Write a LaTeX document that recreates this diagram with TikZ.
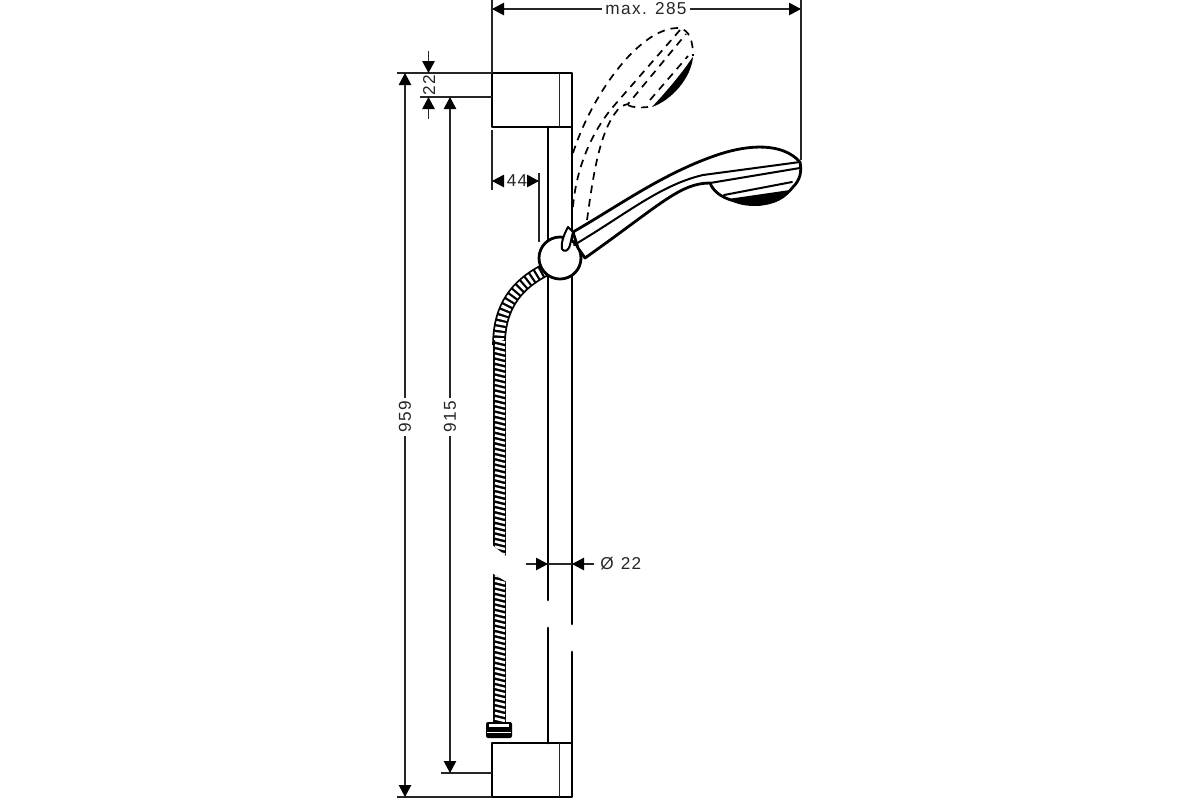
\documentclass[tikz,border=0pt]{standalone}
\usepackage{fontspec}
\setmainfont[LetterSpace=8]{Liberation Sans}
\usetikzlibrary{arrows.meta}
\tikzset{
 thickln/.style={line width=1.4pt,black,line cap=round,line join=round},
 midln/.style={line width=1pt,black,line cap=round,line join=round},
 thinln/.style={line width=.7pt,black!85},
 dashln/.style={line width=.85pt,black,dash pattern=on 3.8pt off 3pt},
 dimtip/.style={line width=.7pt,black!85,-{Triangle[length=6pt,width=6.2pt,color=black]}},
 dimtxt/.style={font=\fontsize{8.6}{10}\selectfont,inner sep=1.5pt,text=black!85}
}
\begin{document}
\begin{tikzpicture}[x=.5pt,y=-.5pt]
\useasboundingbox[fill=white] (0,0) rectangle (1200,800);
% dashed upper position
\draw[dashln] (573,153) .. controls (582,125) and (600,88) .. (627,58) .. controls (642,42) and (660,28) .. (678,28) .. controls (690,29) and (693,42) .. (693,56);
\draw[dashln] (573,207) .. controls (576,170) and (590,135) .. (612,108) -- (680,30);
\draw[dashln] (587,220) .. controls (592,185) and (598,135) .. (616,112) .. controls (620,106) and (624,105) .. (628,104) -- (686,34);
\draw[dashln] (628,105) .. controls (630,107) and (640,108) .. (648,107);
\draw[dashln] (650,100) -- (688,56);
\fill[black] (693,57) .. controls (691,78) and (672,100) .. (652,107) .. controls (664,94) and (680,76) .. (692,58) -- cycle;
% rail
\draw[thickln] (548,127) -- (548,600);
\draw[thickln] (548,628) -- (548,743);
\draw[thickln] (572,127) -- (572,624);
\draw[thickln] (572,652) -- (572,743);
\draw[thickln] (492,73) -- (572,73) -- (572,127) -- (492,127) -- cycle;
\draw[thinln] (559.5,73) -- (559.5,127);
\draw[thickln] (492,743) -- (572,743) -- (572,797) -- (492,797) -- cycle;
\draw[thinln] (559.5,743) -- (559.5,797);
% hose curved part
\draw[line width=6.8pt,black] (545,270) .. controls (518,284) and (499,305) .. (499,345);
\draw[line width=5pt,white,dash pattern=on 1.5pt off 1.2pt] (545,270) .. controls (518,284) and (499,305) .. (499,345);
% hose straight part
\begin{scope}
\clip (490,340) -- (510,340) -- (510,559) -- (490,543) -- cycle;
\fill[black] (492.5,340) rectangle (506,560);
\foreach \y in {340,345.3,...,560} \draw[line width=1.3pt,white] (495,\y) -- (505,\y+2.5);
\end{scope}
\begin{scope}
\clip (490,572) -- (510,584) -- (510,724) -- (490,724) -- cycle;
\fill[black] (492.5,570) rectangle (506,724);
\foreach \y in {570,575.3,...,724} \draw[line width=1.3pt,white] (495,\y) -- (505,\y+2.5);
\end{scope}
% hose nut
\fill[black,rounded corners=1pt] (486,722) rectangle (512,738);
\fill[white] (489,724) rectangle (509,726.5);
\fill[white] (487,731.5) rectangle (511,732.5);
% ball
\node[circle,draw,fill=white,line width=1.4pt,minimum size=21pt,inner sep=0pt] (ball) at (560,258) {};
% handle
\draw[thickln,fill=white] (573,232) .. controls (620,205) and (665,172) .. (720,154) .. controls (748,145) and (782,142) .. (800,162) .. controls (802,172) and (800,180) .. (793,187) .. controls (785,197) and (775,204) .. (757,204) .. controls (735,203) and (716,198) .. (710,183) .. controls (680,183) and (660,205) .. (585,258) -- (578,248) -- cycle;
\draw[midln] (574,245) .. controls (625,215) and (660,185) .. (703,175) -- (800,162);
\draw[midln] (710,183) -- (800,168);
\draw[midln] (724,195) -- (792,182);
\fill[black] (728,199) -- (790,190) .. controls (780,200) and (770,206) .. (755,206) .. controls (745,206) and (735,204) .. (728,199) -- cycle;
% peg
\draw[midln,fill=white] (568,227) -- (573,232) -- (570,245) .. controls (568,252) and (564,252) .. (562,249) .. controls (561,244) and (563,236) .. (568,227) -- cycle;
% named dimension anchors
\coordinate (maxL) at (492,9); \coordinate (maxR) at (801,9);
\node[dimtxt] (tmax) at (646,9) {max. 285};
\draw[dimtip] (tmax) -- (maxL);
\draw[dimtip] (tmax) -- (maxR);
\coordinate (e1a) at (492,0); \coordinate (e1b) at (492,73);
\draw[thinln] (e1a) -- (e1b);
\coordinate (e2a) at (801,0); \coordinate (e2b) at (801,160);
\draw[thinln] (e2a) -- (e2b);
\coordinate (l1a) at (397,73); \coordinate (l1b) at (492,73);
\draw[thinln] (l1a) -- (l1b);
\coordinate (l2a) at (420,97); \coordinate (l2b) at (492,97);
\draw[thinln] (l2a) -- (l2b);
\coordinate (l3a) at (441,773); \coordinate (l3b) at (492,773);
\draw[thinln] (l3a) -- (l3b);
\coordinate (l4a) at (397,797); \coordinate (l4b) at (492,797);
\draw[thinln] (l4a) -- (l4b);
% 22
\coordinate (d22a) at (428.5,51); \coordinate (d22b) at (428.5,73);
\coordinate (d22c) at (428.5,119); \coordinate (d22d) at (428.5,97);
\draw[dimtip] (d22a) -- (d22b);
\draw[dimtip] (d22c) -- (d22d);
\node[dimtxt,rotate=90] (t22) at (429,85) {22};
% 959, 915
\node[dimtxt,rotate=90] (t959) at (405,417) {959};
\coordinate (d959a) at (405,73); \coordinate (d959b) at (405,797);
\draw[dimtip] (t959) -- (d959a);
\draw[dimtip] (t959) -- (d959b);
\node[dimtxt,rotate=90] (t915) at (450,417) {915};
\coordinate (d915a) at (450,97); \coordinate (d915b) at (450,773);
\draw[dimtip] (t915) -- (d915a);
\draw[dimtip] (t915) -- (d915b);
% 44
\coordinate (e3a) at (492,130); \coordinate (e3b) at (492,190);
\draw[thinln] (e3a) -- (e3b);
\coordinate (e4a) at (539,173); \coordinate (e4b) at (539,242);
\draw[thinln] (e4a) -- (e4b);
\node[dimtxt] (t44) at (517,181) {44};
\coordinate (d44a) at (492,181); \coordinate (d44b) at (539,181);
\draw[dimtip] (t44) -- (d44a);
\draw[dimtip] (t44) -- (d44b);
% diameter 22
\coordinate (p1) at (526,564); \coordinate (p2) at (548,564);
\coordinate (p3) at (594,564); \coordinate (p4) at (572,564);
\draw[dimtip] (p1) -- (p2);
\draw[dimtip] (p3) -- (p4);
\draw[thinln] (p2) -- (p4);
\node[dimtxt,anchor=west] (tdia) at (597,564) {Ø\hspace{3.5pt}22};
\end{tikzpicture}
\end{document}
